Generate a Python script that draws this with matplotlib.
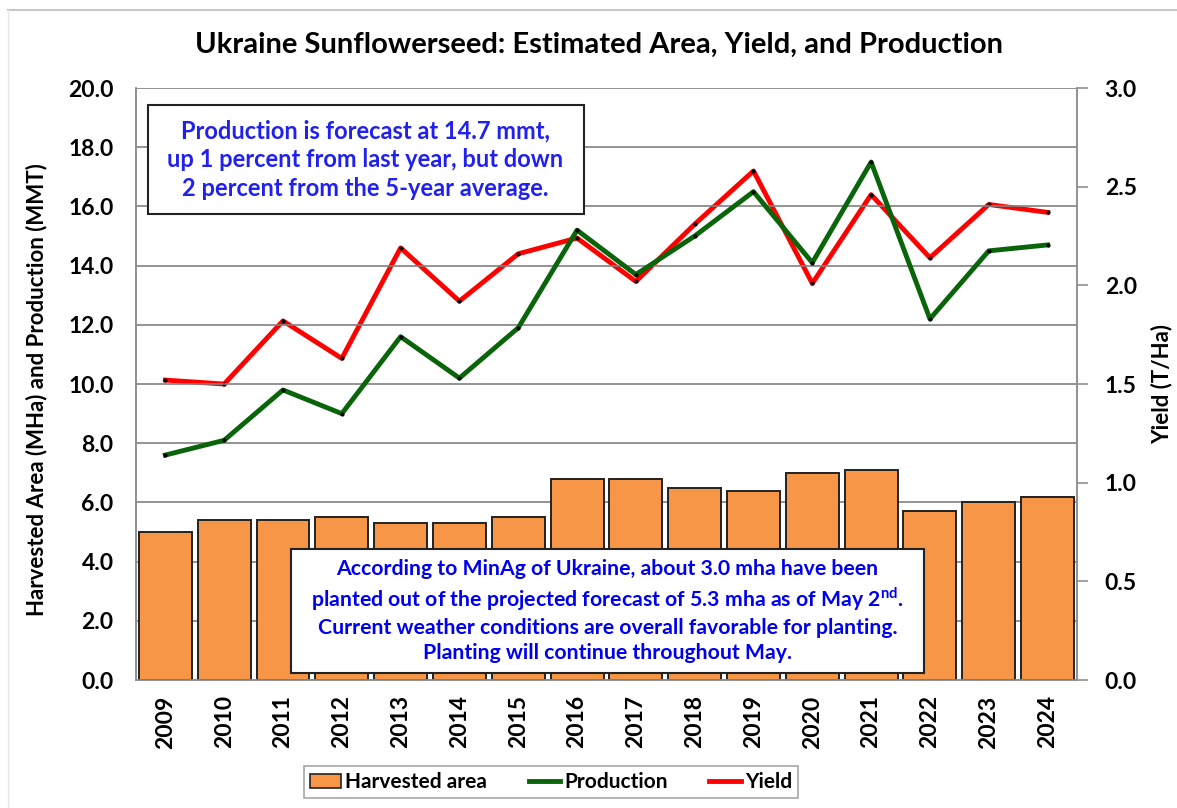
import numpy as np
import matplotlib
matplotlib.use("Agg")
import matplotlib.pyplot as plt
from matplotlib.lines import Line2D
from matplotlib.patches import Rectangle

plt.rcParams['font.family'] = ['Lato', 'DejaVu Sans']
plt.rcParams['font.weight'] = 'bold'
plt.rcParams['axes.labelweight'] = 'bold'
plt.rcParams['mathtext.fontset'] = 'custom'
plt.rcParams['mathtext.bf'] = 'Lato:bold'
plt.rcParams['mathtext.rm'] = 'Lato:bold'

# Data
years = [2009, 2010, 2011, 2012, 2013, 2014, 2015, 2016,
         2017, 2018, 2019, 2020, 2021, 2022, 2023, 2024]
area = [5.0, 5.4, 5.4, 5.5, 5.3, 5.3, 5.5, 6.8,
        6.8, 6.5, 6.4, 7.0, 7.1, 5.7, 6.0, 6.2]
production = [7.6, 8.1, 9.8, 9.0, 11.6, 10.2, 11.9, 15.2,
              13.7, 15.0, 16.5, 14.1, 17.5, 12.2, 14.5, 14.7]
yield_t = [1.52, 1.50, 1.82, 1.63, 2.19, 1.92, 2.16, 2.24,
           2.02, 2.31, 2.58, 2.01, 2.46, 2.14, 2.41, 2.37]

left_ticks = np.arange(0, 20.1, 2.0)
right_ticks = np.arange(0, 3.01, 0.5)

fig = plt.figure(figsize=(11.77, 8.08), dpi=100)
ax = fig.add_axes([0.1155, 0.1584, 0.7995, 0.7326])
ax2 = ax.twinx()

x = np.arange(len(years))
ax.bar(x, area, width=0.9, color='#F79646', edgecolor='#222222', linewidth=1.4, zorder=2)
ax.set_xlim(-0.5, len(years) - 0.5)
ax.set_ylim(0, 20)
ax.set_yticks(left_ticks)
ax.set_yticklabels([f"{v:.1f}" for v in left_ticks], fontsize=16.5)
ax.set_xticks(x)
ax.set_xticklabels([str(y) for y in years], rotation=90, fontsize=16.5)
ax.tick_params(axis='x', length=0, pad=11)
ax.tick_params(axis='y', length=0, pad=16)
ax.grid(axis='y', color='#808080', linewidth=1.2, zorder=0)
ax.set_axisbelow(True)
ax.set_ylabel("Harvested Area (MHa) and Production (MMT)", fontsize=16)
ax.yaxis.set_label_coords(-0.094, 0.49)

ax2.plot(x, yield_t, color='#FF0000', linewidth=3.5, zorder=4,
         marker='o', markersize=2, markerfacecolor='black', markeredgecolor='black')
ax.plot(x, production, color='#0A640A', linewidth=3.5, zorder=5,
        marker='o', markersize=2, markerfacecolor='black', markeredgecolor='black')
ax2.set_ylim(0, 3.0)
ax2.set_yticks(right_ticks)
ax2.set_yticklabels([f"{v:.1f}" for v in right_ticks], fontsize=16.5)
ax2.tick_params(axis='y', length=8, width=1.2, color='#909090', pad=12)
ax2.set_ylabel("Yield (T/Ha)", fontsize=16, labelpad=10)

for a in (ax, ax2):
    for s in a.spines.values():
        s.set_color('#909090')
        s.set_linewidth(1.2)
ax.spines['top'].set_visible(False)
ax2.spines['top'].set_visible(False)

# keep production line on top of yield
ax.set_zorder(ax2.get_zorder() + 1)
ax.patch.set_visible(False)

fig.text(0.509, 0.944, "Ukraine Sunflowerseed: Estimated Area, Yield, and Production",
         ha='center', va='center', fontsize=21)

# upper note box
ax.add_patch(Rectangle((0.0128, 0.787), 0.4632, 0.184, transform=ax.transAxes,
                       facecolor='white', edgecolor='#222222', linewidth=1.5, zorder=9))
ax.text(0.244, 0.879, "Production is forecast at 14.7 mmt,\nup 1 percent from last year, but down\n2 percent from the 5-year average.",
        transform=ax.transAxes, ha='center', va='center', color='#2020F0', fontsize=17,
        linespacing=1.29, zorder=10)

# lower note box
ax.add_patch(Rectangle((0.1647, 0.0118), 0.6727, 0.2095, transform=ax.transAxes,
                       facecolor='white', edgecolor='#222222', linewidth=1.5, zorder=9))
ax.text(0.501, 0.1166,
        "According to MinAg of Ukraine, about 3.0 mha have been\n"
        r"planted out of the projected forecast of 5.3 mha as of May 2$^{\mathbf{nd}}$." "\n"
        "Current weather conditions are overall favorable for planting.\n"
        "Planting will continue throughout May.",
        transform=ax.transAxes, ha='center', va='center', color='#0000F0', fontsize=15.3,
        linespacing=1.3, zorder=10)

handles = [
    plt.Rectangle((0, 0), 1, 1, facecolor='#F79646', edgecolor='#222222', linewidth=1.2),
    Line2D([0], [0], color='#0A640A', linewidth=3.5),
    Line2D([0], [0], color='#FF0000', linewidth=3.5),
]
leg = fig.legend(handles, ["Harvested area", "Production", "Yield"], loc='center',
                 bbox_to_anchor=(0.468, 0.032), ncol=3, fontsize=15, frameon=True,
                 fancybox=False, edgecolor='#909090', handlelength=1.5, handletextpad=0.2,
                 columnspacing=2.0, borderpad=0.3)
leg.get_frame().set_linewidth(1.2)

# outer frame lines
fig.add_artist(Line2D([0.007, 1.0], [0.988, 0.988], transform=fig.transFigure, color='#c8c8c8', linewidth=1.5))
fig.add_artist(Line2D([0.007, 0.007], [0.0, 0.988], transform=fig.transFigure, color='#e8e8e8', linewidth=1.0))

fig.savefig("out.png", dpi=100)
